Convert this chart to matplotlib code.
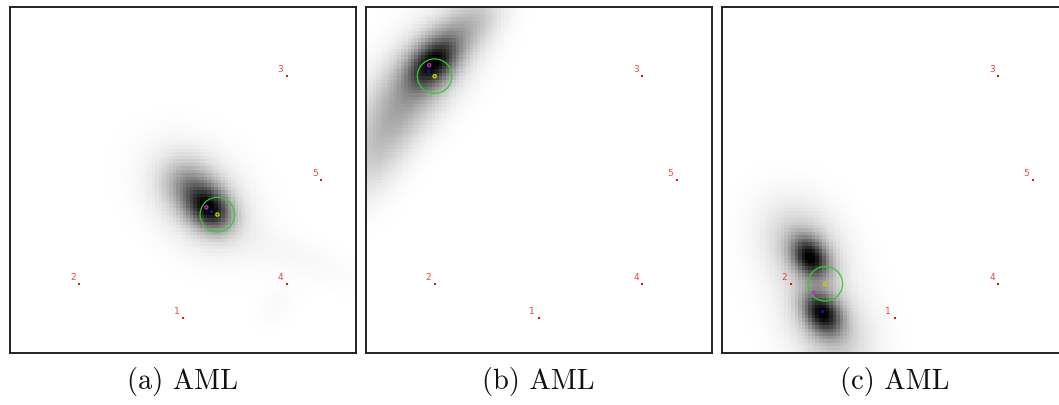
import numpy as np
import matplotlib
matplotlib.use("Agg")
import matplotlib.pyplot as plt
from matplotlib.patches import Circle

# Anchor nodes (grid units, y grows downward)
anchor_ids = ["1", "2", "3", "4", "5"]
anchor_x = [50, 20, 80, 80, 90]
anchor_y = [90, 80, 20, 80, 50]

captions = ["(a) AML", "(b) AML", "(c) AML"]

# Estimated positions per panel
estimate_x = [60.0, 20.0, 30.0]      # yellow: AML estimate (circle centre)
estimate_y = [60.0, 20.0, 80.0]
true_x = [56.8, 18.4, 26.6]          # magenta
true_y = [57.9, 16.8, 82.6]
mean_x = [58.1, 18.0, 29.0]          # blue
mean_y = [58.9, 18.4, 88.0]
circle_radius = 5.0

# Likelihood surface as Gaussian components:
# (cx, cy, sigma_major, sigma_minor, angle_deg, weight)
components_a = [
    (57.8, 58.5, 4.8, 3.8, 45, 1.00),
    (52, 52, 5.5, 4.5, 45, 0.40),
    (55, 55.5, 11.0, 8.0, 45, 0.25),
    (83, 72, 13.0, 4.0, 22, 0.04),
    (77, 86, 5.0, 3.5, -45, 0.03),
]
components_b = [
    (19.5, 16, 6.0, 3.8, -47, 1.00),
    (17, 19, 13.0, 7.0, -50, 0.35),
    (8, 32, 11.0, 6.0, -60, 0.28),
    (1, 46, 9.0, 5.5, -65, 0.14),
    (30, 5, 7.5, 4.5, -40, 0.28),
]
components_c = [
    (25.6, 72.5, 4.4, 3.2, 55, 1.00),
    (29.0, 88.5, 4.6, 3.3, 55, 1.00),
    (23.5, 69, 9.0, 7.0, 55, 0.26),
    (31.0, 93, 10.0, 7.0, 58, 0.26),
    (27.0, 82, 17.0, 10.0, 65, 0.04),
]
panel_components = [components_a, components_b, components_c]

grid_n = 100


def surface(components):
    c = np.arange(grid_n) + 0.5
    X, Y = np.meshgrid(c, c)
    Z = np.zeros_like(X)
    for cx, cy, smaj, smin, ang, w in components:
        t = np.deg2rad(ang)
        dx, dy = X - cx, Y - cy
        u = dx * np.cos(t) + dy * np.sin(t)
        v = -dx * np.sin(t) + dy * np.cos(t)
        Z += w * np.exp(-0.5 * ((u / smaj) ** 2 + (v / smin) ** 2))
    return Z / Z.max()


W, H = 1059, 405
fig = plt.figure(figsize=(W / 100, H / 100), dpi=100)

ax_w = 347 / W
ax_h = 346 / H
ax_bottom = (H - 353) / H
lefts_px = [9.3, 365, 721]

for i, left in enumerate(lefts_px):
    ax = fig.add_axes([left / W, ax_bottom, ax_w, ax_h])
    Z = surface(panel_components[i])
    ax.imshow(Z, cmap="gray_r", vmin=0, vmax=0.97, extent=(0, grid_n, grid_n, 0),
              interpolation="nearest", zorder=0)

    ax.scatter(anchor_x, anchor_y, s=3, marker="s", color="#ee1111", linewidths=0, zorder=3)
    for lab, x, y in zip(anchor_ids, anchor_x, anchor_y):
        ax.annotate(lab, (x, y), xytext=(-4.5, 1.5), textcoords="offset points",
                    fontsize=6.5, color="#ee2222", alpha=0.85, ha="center", va="bottom",
                    zorder=3)

    ax.add_patch(Circle((estimate_x[i], estimate_y[i]), circle_radius, fill=False,
                        edgecolor="#33cc33", linewidth=0.9, zorder=4))
    ax.scatter([mean_x[i]], [mean_y[i]], s=6, marker="o", color="#1010aa",
               linewidths=0, zorder=5)
    ax.scatter([true_x[i]], [true_y[i]], s=5, marker="o", facecolor="none",
               edgecolor="#cc22cc", linewidths=1.0, zorder=5)
    ax.scatter([estimate_x[i]], [estimate_y[i]], s=5, marker="o", facecolor="none",
               edgecolor="#cccc00", linewidths=1.0, zorder=5)

    ax.set_xlim(0, grid_n)
    ax.set_ylim(grid_n, 0)
    ax.set_xticks([])
    ax.set_yticks([])
    for sp in ax.spines.values():
        sp.set_linewidth(1.4)
        sp.set_color("#222222")

    fig.text((left + 173.5) / W, 1 - 381 / H, captions[i], family="cmr10",
             fontsize=20.5, ha="center", va="center", color="#111111")

fig.savefig("out.png", dpi=100)
